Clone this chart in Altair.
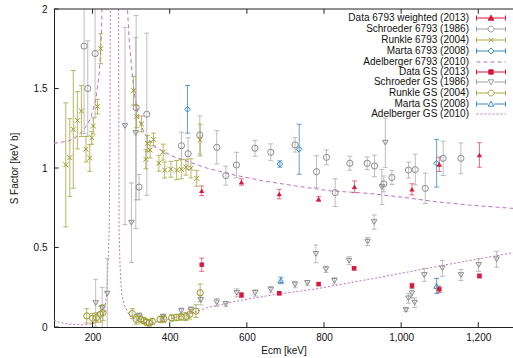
import altair as alt
import pandas as pd

# ---------------- data ----------------
d6793_E = [483, 586, 684, 786, 879, 1028, 1099, 1203]
d6793_S = [0.857, 0.912, 0.836, 0.805, 0.882, 0.866, 1.023, 1.082]
d6793_err = [0.03, 0.02, 0.03, 0.015, 0.037, 0.035, 0.045, 0.077]

s6793_E = [178, 187.5, 206.5, 313, 320.6, 340.6, 430.4, 447.7, 478, 522, 545.5, 573, 621, 662, 725,
           780.5, 806.5, 829, 867, 912, 931, 955, 976, 1019, 1036.6, 1062.5, 1109, 1155]
s6793_S = [1.767, 1.50, 1.72, 1.38, 0.88, 1.338, 1.14, 1.09, 1.208, 1.13, 0.952, 1.019, 1.124, 1.099, 1.145,
           0.977, 1.067, 0.845, 1.03, 1.03, 1.013, 0.90, 0.94, 0.987, 0.99, 0.872, 1.061, 1.061]
s6793_err = [0.55, 0.3, 0.4, 0.58, 0.08, 0.51, 0.085, 0.1, 0.12, 0.105, 0.06, 0.08, 0.05, 0.053, 0.045,
             0.1, 0.047, 0.087, 0.044, 0.04, 0.068, 0.05, 0.045, 0.05, 0.097, 0.095, 0.108, 0.097]

r6793_E = [130.5, 141, 150, 160.6, 171, 183, 192.7, 197.9, 202, 212.5, 221,
           306, 314, 327, 338, 342, 349, 358, 372, 383, 387, 403, 418, 430, 442, 455, 470, 479]
r6793_S = [1.02, 1.065, 1.243, 1.30, 1.358, 1.118, 1.063, 1.19, 1.264, 1.386, 1.75,
           1.486, 1.323, 1.277, 1.055, 1.155, 1.113, 1.18, 1.03, 1.10, 0.987, 0.992, 0.987, 0.992, 1.005, 0.998, 0.935, 1.176]
r6793_err = [0.39, 0.245, 0.37, 0.18, 0.16, 0.08, 0.084, 0.04, 0.05, 0.046, 0.094,
             0.09, 0.07, 0.05, 0.06, 0.05, 0.05, 0.04, 0.05, 0.05, 0.05, 0.05, 0.06, 0.06, 0.05, 0.06, 0.05, 0.1]

m6793_E = [446, 685.6, 735.7, 1092]
m6793_S = [1.369, 1.025, 1.118, 1.03]
m6793_err = [0.15, 0.02, 0.157, 0.15]

dGS_E = [483, 586, 684, 786, 878, 1028, 1099, 1203]
dGS_S = [0.392, 0.201, 0.212, 0.27, 0.369, 0.26, 0.237, 0.321]
dGS_err = [0.042, 0.015, 0.01, 0.01, 0.01, 0.015, 0.02, 0.012]

sGS_E = [208, 225, 238, 284, 300.7, 312, 320.6, 383, 430, 455, 480.6, 522, 545.5, 574, 621.5, 662, 725,
         757, 779, 805, 827, 865, 913, 930, 950, 959, 1012.5, 1019, 1028, 1035, 1060, 1107, 1155, 1201, 1247.5]
sGS_S = [0.15, 0.12, 0.21, 1.264, 0.656, 1.22, 0.069, 0.065, 0.10, 0.107, 0.17, 0.155, 0.145, 0.215, 0.214,
         0.235, 0.267, 0.277, 0.46, 0.363, 0.29, 0.417, 0.537, 0.66, 0.88, 1.159, 0.107, 0.18, 0.212, 0.153,
         0.327, 0.369, 0.327, 0.39, 0.426]
sGS_err = [0.15, 0.13, 0.22, 0.62, 0.25, 0.6, 0.02, 0.015, 0.02, 0.02, 0.03, 0.025, 0.015, 0.025, 0.02,
           0.02, 0.02, 0.015, 0.056, 0.02, 0.02, 0.025, 0.025, 0.045, 0.11, 0.155, 0.01, 0.03, 0.03, 0.03,
           0.04, 0.05, 0.035, 0.04, 0.05]

rGS_E = [185, 200, 210, 220, 227, 303, 313, 325, 333, 340, 347, 355, 375, 385, 405, 418, 430, 442, 452, 468, 479]
rGS_S = [0.07, 0.055, 0.06, 0.08, 0.09, 0.085, 0.048, 0.05, 0.04, 0.03, 0.025, 0.035, 0.048, 0.05, 0.057,
         0.06, 0.063, 0.066, 0.08, 0.1, 0.215]
rGS_err = [0.045, 0.03, 0.03, 0.05, 0.05, 0.03, 0.03, 0.025, 0.02, 0.02, 0.02, 0.02, 0.02, 0.02, 0.02,
           0.02, 0.02, 0.025, 0.03, 0.04, 0.055]

mGS_E = [688, 1092]
mGS_S = [0.293, 0.258]
mGS_err = [0.02, 0.047]

# Adelberger (2010) R-matrix curves (two branches around the 259 keV resonance)
a6793_left_E = [100, 139, 161, 178, 195, 208, 217, 221, 224, 225.5]
a6793_left_S = [1.155, 1.17, 1.20, 1.243, 1.31, 1.43, 1.585, 1.74, 1.93, 2.3]
a6793_right_E = [289.5, 290.5, 295, 301, 308, 321, 334, 360, 411, 498, 567, 640, 727, 813, 917, 1004, 1090, 1177, 1290]
a6793_right_S = [2.3, 2.0, 1.8, 1.637, 1.47, 1.30, 1.22, 1.134, 1.071, 0.998, 0.956, 0.92, 0.887, 0.857,
                 0.84, 0.816, 0.788, 0.767, 0.746]
aGS_left_E = [100, 113, 139, 173, 200, 217, 230, 236, 240, 243, 245, 246.3]
aGS_left_S = [0.044, 0.03, 0.018, 0.013, 0.02, 0.044, 0.086, 0.19, 0.4, 0.61, 1.1, 2.3]
aGS_right_E = [267.2, 268.7, 271, 273, 276, 282, 295, 312, 330, 347, 372, 400, 430, 459, 502, 550, 589,
               675, 780, 950, 1125, 1290]
aGS_right_S = [2.3, 0.61, 0.4, 0.296, 0.2, 0.14, 0.075, 0.045, 0.03, 0.025, 0.035, 0.05, 0.07, 0.09, 0.125,
               0.15, 0.17, 0.205, 0.24, 0.315, 0.395, 0.467]

x_ticks = [200, 400, 600, 800, 1000, 1200]
y_ticks = [0, 0.5, 1, 1.5, 2]
x_domain = [100, 1290]
y_domain = [0, 2]

legend_names = ["Data 6793 weighted (2013)", "Schroeder 6793 (1986)", "Runkle 6793 (2004)",
                "Marta 6793 (2008)", "Adelberger 6793 (2010)", "Data GS (2013)", "Schroeder GS (1986)",
                "Runkle GS (2004)", "Marta GS (2008)", "Adelberger GS (2010)"]

# ---------------- styles ----------------
RED = "#d6193c"
GRAY = "#8c8c8c"
GRAY_BAR = "#a8a8a8"
OLIVE = "#9a9a2e"
OLIVE_BAR = "#aaaa48"
BLUE = "#3a8ac0"
PURPLE = "#c070c0"
FONT = "Liberation Sans"

xs = alt.Scale(domain=x_domain, nice=False, zero=False)
ys = alt.Scale(domain=y_domain, nice=False, zero=False)
xaxis = alt.Axis(values=x_ticks, title="Ecm [keV]", ticks=False, grid=False, labelPadding=5,
                 titlePadding=3, labelFontSize=10, titleFontSize=10, labelFont=FONT, titleFont=FONT,
                 titleFontWeight="normal", labelColor="#111", titleColor="#111", domainColor="#222")
yaxis = alt.Axis(values=y_ticks, format="~g", title="S Factor [keV b]", ticks=False, grid=False,
                 labelPadding=7, titlePadding=14, labelFontSize=10, titleFontSize=10, labelFont=FONT,
                 titleFont=FONT, titleFontWeight="normal", labelColor="#111", titleColor="#111",
                 domainColor="#222")


def frame(E, S, err):
    return pd.DataFrame({"E": E, "S": S, "lo": [s - e for s, e in zip(S, err)],
                         "hi": [s + e for s, e in zip(S, err)]})


def bars(df, color, opacity):
    return alt.Chart(df).mark_errorbar(ticks=True, size=5, thickness=1, color=color, opacity=opacity,
                                       clip=True).encode(
        x=alt.X("E:Q", scale=xs, axis=xaxis),
        y=alt.Y("lo:Q", scale=ys, axis=yaxis),
        y2="hi:Q")


def pts(df, shape, color, size, filled):
    return alt.Chart(df).mark_point(shape=shape, color=color, size=size, filled=filled, opacity=1,
                                    strokeWidth=1, clip=True).encode(
        x=alt.X("E:Q", scale=xs, axis=xaxis),
        y=alt.Y("S:Q", scale=ys, axis=yaxis))


def curve(branches, dash):
    rows = []
    for k, (E, S) in enumerate(branches):
        for e, s in zip(E, S):
            rows.append({"E": e, "S": s, "seg": k})
    return alt.Chart(pd.DataFrame(rows)).mark_line(color=PURPLE, strokeWidth=1, strokeDash=dash,
                                                   clip=True).encode(
        x=alt.X("E:Q", scale=xs, axis=xaxis),
        y=alt.Y("S:Q", scale=ys, axis=yaxis),
        detail="seg:N", order="E:Q")


XSHAPE = "M-1,-1L1,1M-1,1L1,-1"

f_d6793 = frame(d6793_E, d6793_S, d6793_err)
f_s6793 = frame(s6793_E, s6793_S, s6793_err)
f_r6793 = frame(r6793_E, r6793_S, r6793_err)
f_m6793 = frame(m6793_E, m6793_S, m6793_err)
f_dGS = frame(dGS_E, dGS_S, dGS_err)
f_sGS = frame(sGS_E, sGS_S, sGS_err)
f_rGS = frame(rGS_E, rGS_S, rGS_err)
f_mGS = frame(mGS_E, mGS_S, mGS_err)

layers = [
    curve([(a6793_left_E, a6793_left_S), (a6793_right_E, a6793_right_S)], [4, 3]),
    curve([(aGS_left_E, aGS_left_S), (aGS_right_E, aGS_right_S)], [2, 2]),
    bars(f_s6793, GRAY_BAR, 0.75), bars(f_sGS, GRAY_BAR, 0.75),
    bars(f_r6793, OLIVE_BAR, 0.85), bars(f_rGS, OLIVE_BAR, 0.85),
    bars(f_m6793, BLUE, 0.8), bars(f_mGS, BLUE, 0.8),
    bars(f_d6793, RED, 0.6), bars(f_dGS, RED, 0.6),
    pts(f_s6793, "circle", GRAY, 38, False),
    pts(f_sGS, "triangle-down", GRAY, 30, False),
    pts(f_r6793, XSHAPE, OLIVE, 24, False),
    pts(f_rGS, "circle", OLIVE, 38, False),
    pts(f_m6793, "diamond", BLUE, 32, False),
    pts(f_mGS, "triangle-up", BLUE, 30, False),
    pts(f_d6793, "triangle-up", RED, 28, True),
    pts(f_dGS, "square", RED, 20, True),
]

# inward tick marks and top border (drawn through the scales)
xt = pd.DataFrame({"t": x_ticks})
yt = pd.DataFrame({"t": y_ticks})
TL_Y = 0.03
TL_X = 12
layers += [
    alt.Chart(xt).mark_rule(color="#222", strokeWidth=1).encode(
        x=alt.X("t:Q", scale=xs, axis=xaxis), y=alt.datum(y_domain[0]), y2=alt.datum(y_domain[0] + TL_Y)),
    alt.Chart(xt).mark_rule(color="#222", strokeWidth=1).encode(
        x=alt.X("t:Q", scale=xs, axis=xaxis), y=alt.datum(y_domain[1]), y2=alt.datum(y_domain[1] - TL_Y)),
    alt.Chart(yt).mark_rule(color="#222", strokeWidth=1).encode(
        y=alt.Y("t:Q", scale=ys, axis=yaxis), x=alt.datum(x_domain[0]), x2=alt.datum(x_domain[0] + TL_X)),
    alt.Chart(yt).transform_filter(alt.datum.t == y_domain[1]).mark_rule(color="#222", strokeWidth=1).encode(
        y=alt.Y("t:Q", scale=ys, axis=yaxis)),
]

# legend: symbols are errorbar samples (drawn as Vega custom symbol paths)
R = 4.5  # px per path unit for symbolSize 81


def u(v):
    return f"{v / R:.3f}"


HALF = 14.5
WH = 2.5


def bar_path(gap):
    if gap > 0:
        line = f"M{u(-HALF)},0H{u(-gap)}M{u(gap)},0H{u(HALF)}"
    else:
        line = f"M{u(-HALF)},0H{u(HALF)}"
    return line + f"M{u(-HALF)},{u(-WH)}V{u(WH)}M{u(HALF)},{u(-WH)}V{u(WH)}"


def circ(r):
    return f"M{u(r)},0A{u(r)},{u(r)},0,1,1,{u(-r)},0A{u(r)},{u(r)},0,1,1,{u(r)},0Z"


def dash_path(d, g):
    s, x = "", -HALF
    while x < HALF:
        s += f"M{u(x)},0H{u(min(x + d, HALF))}"
        x += d + g
    return s


tri_up = f"M0,{u(-2.8)}L{u(2.8)},{u(2.2)}L{u(-2.8)},{u(2.2)}Z"
tri_dn = f"M{u(-2.8)},{u(-2.2)}L{u(2.8)},{u(-2.2)}L0,{u(2.8)}Z"
diam = f"M0,{u(-3)}L{u(3)},0L0,{u(3)}L{u(-3)},0Z"
sq = f"M{u(-2.2)},{u(-2.2)}H{u(2.2)}V{u(2.2)}H{u(-2.2)}Z"
xm = f"M{u(-2.3)},{u(-2.3)}L{u(2.3)},{u(2.3)}M{u(-2.3)},{u(2.3)}L{u(2.3)},{u(-2.3)}"

leg_shapes = [bar_path(0) + tri_up, bar_path(3) + circ(3), bar_path(0) + xm, bar_path(3) + diam,
              dash_path(4, 3), bar_path(0) + sq, bar_path(3) + tri_dn, bar_path(3) + circ(3),
              bar_path(3) + tri_up, dash_path(2, 2)]
leg_strokes = [RED, "#a0a0a0", OLIVE_BAR, BLUE, PURPLE, RED, "#a0a0a0", OLIVE_BAR, BLUE, PURPLE]
leg_fills = [RED, "transparent", "transparent", "transparent", "transparent", RED, "transparent",
             "transparent", "transparent", "transparent"]

legend = alt.Legend(title=None, orient="none", legendX=432, legendY=4, labelAlign="right",
                    labelOffset={"expr": "-27"}, symbolSize=81, symbolStrokeWidth=1, symbolOpacity=1,
                    labelFontSize=10, labelFont=FONT, labelColor="#111", rowPadding=0, padding=0,
                    labelLimit=300)
leg_df = pd.DataFrame({"series": legend_names})
layers.append(
    alt.Chart(leg_df).mark_point(opacity=0, filled=False).encode(
        stroke=alt.Stroke("series:N", scale=alt.Scale(domain=legend_names, range=leg_strokes), legend=legend),
        fill=alt.Fill("series:N", scale=alt.Scale(domain=legend_names, range=leg_fills), legend=legend),
        shape=alt.Shape("series:N", scale=alt.Scale(domain=legend_names, range=leg_shapes), legend=legend),
    )
)

chart = alt.layer(*layers).properties(
    width=459, height=318,
    padding={"left": 54, "top": 9, "right": 0, "bottom": 31},
    autosize=alt.AutoSizeParams(type="none"),
    background="white",
).configure_view(stroke=None)

chart.save("out.html", embed_options={"renderer": "svg", "actions": False})
